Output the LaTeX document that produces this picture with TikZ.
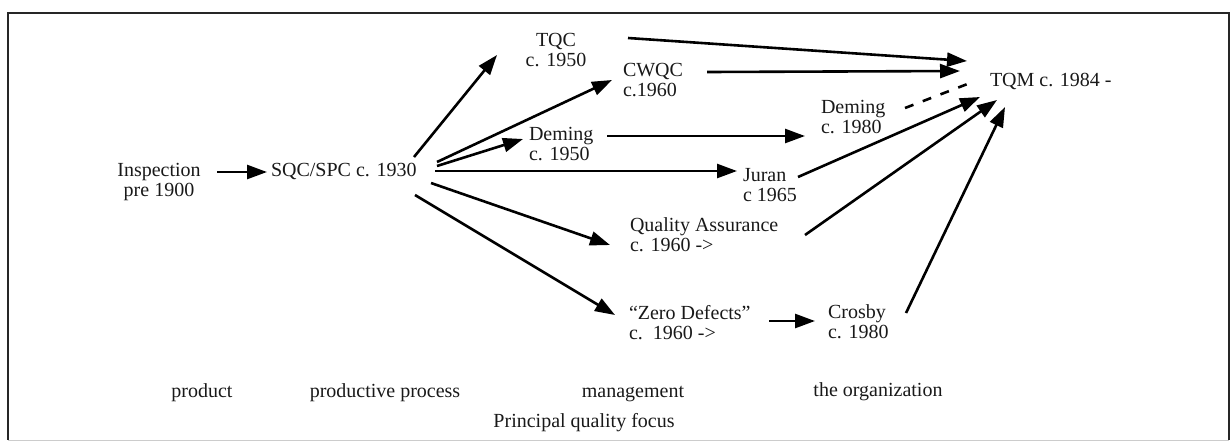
\documentclass[tikz,border=0pt]{standalone}
\usepackage{fontspec}
\setmainfont{Liberation Serif}
\usetikzlibrary{arrows.meta,calc}
\begin{document}
\begin{tikzpicture}[x=0.5pt,y=-0.5pt,
  txt/.style={inner sep=0pt, outer sep=0pt, text=black!90, font=\fontsize{10pt}{10pt}\selectfont},
  lft/.style={txt, align=left, anchor=north west},
  ctr/.style={txt, align=center, anchor=north},
  bse/.style={txt, anchor=base west},
  lbl/.style={txt, anchor=base},
  arr/.style={line width=1.3pt, -{Triangle[length=10pt,width=7pt]}},
  dsh/.style={line width=1.3pt, dash pattern=on 4.5pt off 5pt}
]
\useasboundingbox (0,0) rectangle (1230,446);
% frame
\draw[line width=0.5pt, black!20] (8,440) -- (1229,440);
\draw[line width=1.3pt, black!85] (1229,440) -- (1229,13) -- (8,13) -- (8,440);

% nodes
\node[ctr] (insp) at (159,163) {Inspection\\pre 1900};
\node[bse] (sqc) at (271,176) {SQC/SPC c. 1930};
\node[ctr] (tqc) at (556,33) {TQC\\c. 1950};
\node[lft] (cwqc) at (623,63) {CWQC\\c.1960};
\node[lft] (dem50) at (529,127) {Deming\\c. 1950};
\node[lft] (juran) at (743,168) {Juran\\c 1965};
\node[lft] (dem80) at (821,100) {Deming\\c. 1980};
\node[bse] (tqm) at (990,86) {TQM c. 1984 -};
\node[lft] (qa) at (630,218) {Quality Assurance\\c. 1960 ->};
\node[lft] (zd) at (629,305) {“Zero Defects”\\c.\ \ 1960 ->};
\node[lft] (crosby) at (828,305) {Crosby\\c. 1980};

% bottom labels
\node[lbl] (product) at (202,397) {product};
\node[lbl] (process) at (385,397) {productive process};
\node[lbl] (mgmt) at (633,397) {management};
\node[lbl] (org) at (878,396) {the organization};
\node[lbl] (focus) at (584,427) {Principal quality focus};

% connectors
\draw[arr] ([shift={(58,9)}]insp.north) -- ([shift={(-4,-4)}]sqc.base west);
\draw[arr] ([shift={(143,-19)}]sqc.base west) -- ([shift={(-59,22)}]tqc.north);
\draw[arr] ([shift={(166,-14)}]sqc.base west) -- ([shift={(-11,17)}]cwqc.north west);
\draw[arr] ([shift={(166,-10)}]sqc.base west) -- ([shift={(-6,12)}]dem50.north west);
\draw[arr] ([shift={(164,-5)}]sqc.base west) -- ([shift={(-6,3)}]juran.north west);
\draw[arr] ([shift={(160,7)}]sqc.base west) -- ([shift={(-20,27)}]qa.north west);
\draw[arr] ([shift={(144,19)}]sqc.base west) -- ([shift={(-14,10)}]zd.north west);
\draw[arr] ([shift={(78,9)}]dem50.north west) -- ([shift={(-16,36)}]dem80.north west);
\draw[arr] ([shift={(140,16)}]zd.north west) -- ([shift={(-13,16)}]crosby.north west);
\draw[arr] ([shift={(72,5)}]tqc.north) -- ([shift={(-23,-25)}]tqm.base west);
\draw[arr] ([shift={(84,9)}]cwqc.north west) -- ([shift={(-30,-15)}]tqm.base west);
\draw[arr] ([shift={(55,9)}]juran.north west) -- ([shift={(-10,11)}]tqm.base west);
\draw[arr] ([shift={(175,17)}]qa.north west) -- ([shift={(7,14)}]tqm.base west);
\draw[arr] ([shift={(78,8)}]crosby.north west) -- ([shift={(15,21)}]tqm.base west);
\draw[dsh] ([shift={(84,8)}]dem80.north west) -- ([shift={(-20,-3)}]tqm.base west);
\end{tikzpicture}
\end{document}
